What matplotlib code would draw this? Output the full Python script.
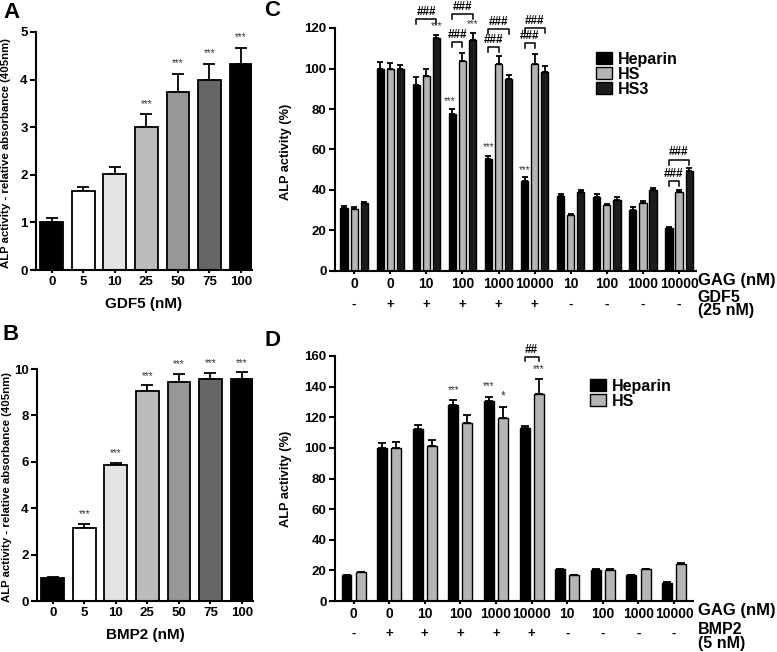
import numpy as np
import matplotlib
matplotlib.use('Agg')
import matplotlib.pyplot as plt
from matplotlib.patches import Patch

plt.rcParams['font.family'] = ['Liberation Sans', 'DejaVu Sans']
plt.rcParams['font.weight'] = 'bold'

# panel A / B data
doses = ['0', '5', '10', '25', '50', '75', '100']
gdf5_vals = [1.0, 1.65, 2.02, 3.0, 3.75, 4.0, 4.32]
gdf5_err = [0.1, 0.1, 0.15, 0.27, 0.37, 0.33, 0.35]
gdf5_sig = ['', '', '', '***', '***', '***', '***']
bmp2_vals = [1.0, 3.15, 5.85, 9.05, 9.45, 9.58, 9.55]
bmp2_err = [0.05, 0.17, 0.1, 0.25, 0.35, 0.25, 0.3]
bmp2_sig = ['', '***', '***', '***', '***', '***', '***']
dose_colors = ['black', 'white', '#e3e3e3', '#bcbcbc', '#979797', '#666666', 'black']

# panel C / D data
gag = ['0', '0', '10', '100', '1000', '10000', '10', '100', '1000', '10000']
plus_minus = ['-', '+', '+', '+', '+', '+', '-', '-', '-', '-']
c_hep = [31, 100, 92, 77.5, 55.5, 44.5, 37, 36.4, 30, 21]
c_hep_err = [1, 3, 4, 2.5, 1.5, 2, 1, 1.5, 1.5, 0.7]
c_hs = [30.5, 100, 96.5, 103.5, 102, 102.3, 27.5, 32.5, 33.6, 39]
c_hs_err = [1, 2.5, 3.5, 4, 4, 5, 0.5, 0.5, 1, 1]
c_hs3 = [33.5, 100, 115, 114, 95, 98.5, 39, 35, 40, 49.4]
c_hs3_err = [0.5, 1.5, 1.5, 3.5, 2, 2.5, 1, 1.5, 1, 1.5]

d_hep = [17, 100, 112.5, 128, 130.5, 112.8, 20.7, 20.5, 16.8, 11.8]
d_hep_err = [0.3, 3, 2.5, 3, 3, 1.5, 0.5, 0.5, 0.5, 0.5]
d_hs = [18.7, 100, 101, 116, 119.5, 135, 17, 20.2, 20.7, 24.2]
d_hs_err = [0.5, 4, 4, 5.5, 7.5, 10, 0.3, 0.5, 0.5, 0.5]

W, H = 777, 652
fig = plt.figure(figsize=(W / 100, H / 100), dpi=100)


def px_axes(l, r, t, b):
    return fig.add_axes([l / W, 1 - b / H, (r - l) / W, (b - t) / H])


def style(ax):
    for s in ['top', 'right']:
        ax.spines[s].set_visible(False)
    for s in ['left', 'bottom']:
        ax.spines[s].set_linewidth(1.5)
    ax.tick_params(width=1.5, length=4, labelsize=9.5, pad=2)
    ax.tick_params(axis='x', length=2.5)
    for lab in ax.get_xticklabels() + ax.get_yticklabels():
        lab.set_fontweight('bold')


def up_err(ax, x, y, e, capw):
    ax.errorbar(x, y, yerr=[np.zeros(len(e)), e], fmt='none', ecolor='black',
                elinewidth=1.3, capsize=capw, capthick=1.3, zorder=1)


def dose_panel(ax, vals, err, sig, ymax, ystep, xlabel, off):
    x = np.arange(len(vals))
    up_err(ax, x, vals, err, 4)
    ax.bar(x, vals, width=0.72, color=dose_colors, edgecolor='black', linewidth=1.3, zorder=2)
    for xi, v, e, s in zip(x, vals, err, sig):
        if s:
            ax.text(xi, v + e + off, s, ha='center', va='bottom', fontsize=7,
                    fontweight='normal', color='#333333')
    ax.set_xlim(-0.5, 6.35)
    ax.set_ylim(0, ymax)
    ax.set_yticks(np.arange(0, ymax + 0.01, ystep))
    ax.set_xticks(x)
    ax.set_xticklabels(doses)
    ax.set_xlabel(xlabel, fontsize=11, fontweight='bold', labelpad=6)
    ax.set_ylabel('ALP activity - relative absorbance (405nm)', fontsize=8.2, fontweight='bold')
    ax.yaxis.set_label_coords(-0.115, 0.49)
    style(ax)


axA = px_axes(36, 252, 32, 270)
dose_panel(axA, gdf5_vals, gdf5_err, gdf5_sig, 5, 1, 'GDF5 (nM)', 0.12)
axB = px_axes(37, 253, 369, 601)
dose_panel(axB, bmp2_vals, bmp2_err, bmp2_sig, 10, 2, 'BMP2 (nM)', 0.2)


def bracket(ax, x1, x2, y, label, drop):
    ax.plot([x1, x1, x2, x2], [y - drop, y, y, y - drop], color='black', lw=1.1, clip_on=False)
    ax.text((x1 + x2) / 2, y + drop * 0.25, label, ha='center', va='bottom', fontsize=8.5,
            fontweight='bold')


def stars(ax, x, y, s='***', size=7):
    ax.text(x, y, s, ha='center', va='bottom', fontsize=size, fontweight='normal',
            color='#333333', clip_on=False)


# panel C
axC = px_axes(335, 696, 28, 271)
x = np.arange(len(gag))
bw, off = 0.2, 0.28
up_err(axC, x - off, c_hep, c_hep_err, 2.5)
up_err(axC, x, c_hs, c_hs_err, 2.5)
up_err(axC, x + off, c_hs3, c_hs3_err, 2.5)
axC.bar(x - off, c_hep, bw, color='black', edgecolor='black', lw=1, zorder=2)
axC.bar(x, c_hs, bw, color='#b5b5b5', edgecolor='black', lw=1, zorder=2)
axC.bar(x + off, c_hs3, bw, color='#1c1c1c', edgecolor='black', lw=1, zorder=2)
axC.set_xlim(-0.53, 9.47)
axC.set_ylim(0, 120)
axC.set_yticks(np.arange(0, 121, 20))
axC.set_xticks(x)
axC.set_xticklabels(gag)
axC.set_ylabel('ALP activity (%)', fontsize=9.2, fontweight='bold')
axC.yaxis.set_label_coords(-0.12, 0.49)
style(axC)
axC.tick_params(axis='x', labelsize=10)

bracket(axC, 2 - off, 2 + off, 124.5, '###', 2.5)
stars(axC, 2 + off, 118.5)
bracket(axC, 3 - off, 3 + off, 127, '###', 2.5)
bracket(axC, 3 - off, 3, 113, '###', 2.5)
stars(axC, 3 - off - 0.07, 81.5)
stars(axC, 3 + off, 119.5)
bracket(axC, 4 - off, 4 + off, 119.5, '###', 2.5)
bracket(axC, 4 - off, 4, 110.5, '###', 2.5)
stars(axC, 4 - off, 58.5)
bracket(axC, 5 - off, 5 + off, 120, '###', 2.5)
bracket(axC, 5 - off, 5, 112.5, '###', 2.5)
stars(axC, 5 - off, 47.5)
bracket(axC, 9 - off, 9 + off, 55, '###', 2.5)
bracket(axC, 9 - off, 9, 44.5, '###', 2.5)

c_handles = [Patch(facecolor='black', edgecolor='black', label='Heparin'),
             Patch(facecolor='#b5b5b5', edgecolor='black', label='HS'),
             Patch(facecolor='#1c1c1c', edgecolor='black', label='HS3')]
axC.legend(handles=c_handles, loc='upper left', bbox_to_anchor=(0.7, 0.935), frameon=False,
           prop={'size': 11.5, 'weight': 'bold'}, handlelength=1.0, handleheight=0.75,
           labelspacing=0.0, handletextpad=0.4, borderpad=0)

for xi, pm in zip(x, plus_minus):
    axC.text(xi, -0.14, pm, transform=axC.get_xaxis_transform(), ha='center', va='center',
             fontsize=9.5, fontweight='bold')
axC.text(1.005, -0.04, 'GAG (nM)', transform=axC.transAxes, ha='left', va='center',
         fontsize=12, fontweight='bold')
axC.text(1.005, -0.136, 'GDF5\n(25 nM)', transform=axC.transAxes, ha='left', va='center',
         fontsize=11.5, fontweight='bold', linespacing=0.9)

# panel D
axD = px_axes(335, 693, 356, 601)
bw2, off2 = 0.28, 0.197
up_err(axD, x - off2, d_hep, d_hep_err, 3)
up_err(axD, x + off2, d_hs, d_hs_err, 3)
axD.bar(x - off2, d_hep, bw2, color='black', edgecolor='black', lw=1, zorder=2)
axD.bar(x + off2, d_hs, bw2, color='#b5b5b5', edgecolor='black', lw=1, zorder=2)
axD.set_xlim(-0.52, 9.53)
axD.set_ylim(0, 160)
axD.set_yticks(np.arange(0, 161, 20))
axD.set_xticks(x)
axD.set_xticklabels(gag)
axD.set_ylabel('ALP activity (%)', fontsize=9.2, fontweight='bold')
axD.yaxis.set_label_coords(-0.12, 0.5)
style(axD)
axD.tick_params(axis='x', labelsize=10)

stars(axD, 3 - off2, 134.5)
stars(axD, 4 - off2, 137)
stars(axD, 4 + off2, 129.5, '*', 8.5)
bracket(axD, 5 - off2, 5 + off2, 159.5, '##', 3)
stars(axD, 5 + off2, 148)

d_handles = [Patch(facecolor='black', edgecolor='black', label='Heparin'),
             Patch(facecolor='#b5b5b5', edgecolor='black', label='HS')]
axD.legend(handles=d_handles, loc='upper left', bbox_to_anchor=(0.69, 0.94), frameon=False,
           prop={'size': 11.5, 'weight': 'bold'}, handlelength=1.0, handleheight=0.75,
           labelspacing=0.0, handletextpad=0.4, borderpad=0)

for xi, pm in zip(x, plus_minus):
    axD.text(xi, -0.135, pm, transform=axD.get_xaxis_transform(), ha='center', va='center',
             fontsize=9.5, fontweight='bold')
axD.text(1.015, -0.04, 'GAG (nM)', transform=axD.transAxes, ha='left', va='center',
         fontsize=12, fontweight='bold')
axD.text(1.015, -0.145, 'BMP2\n(5 nM)', transform=axD.transAxes, ha='left', va='center',
         fontsize=11.5, fontweight='bold', linespacing=0.9)

# panel letters
for lab, (px, py) in zip('ABCD', [(3, 12), (3, 334), (264, 10), (264, 340)]):
    fig.text(px / W, 1 - py / H, lab, fontsize=16, fontweight='bold', va='center', ha='left')

fig.savefig('out.png', dpi=100)
